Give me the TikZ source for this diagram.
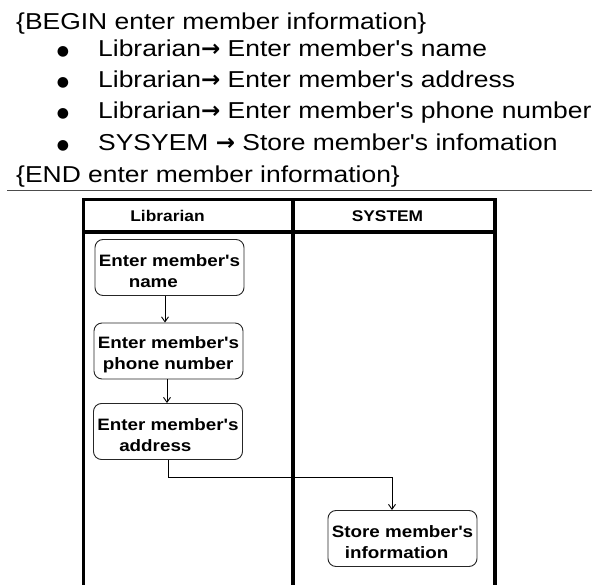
\documentclass[tikz,border=0pt]{standalone}
\usepackage{fontspec}
\setmainfont{Liberation Sans}
\newfontfamily\notefont[FakeStretch=1.15]{Liberation Sans}
\newfontfamily\symfont{DejaVu Sans}
\newfontfamily\boxfont[FakeStretch=1.14]{Liberation Sans Bold}
\newfontfamily\headfont[FakeStretch=1.12]{Liberation Sans Bold}
\usetikzlibrary{arrows.meta}

\newcommand{\thinarrow}{{\symfont\bfseries →}}

\tikzset{
  noteline/.style={anchor=base west, inner sep=0pt, font=\notefont\fontsize{23}{28}\selectfont},
  dot/.style={anchor=center, inner sep=0pt, font=\symfont\fontsize{14}{14}\selectfont},
  lane/.style={line width=3.5pt, black},
  lanehead/.style={anchor=base, inner sep=0pt, font=\headfont\fontsize{15.5}{18}\selectfont},
  activity/.style={draw=black!85, line width=0.9pt, rounded corners=8pt,
    minimum width=149pt, minimum height=56pt, inner sep=0pt, align=left,
    font=\boxfont\fontsize{16.5}{21}\selectfont},
  flow/.style={line width=0.9pt, -{Straight Barb[length=5pt,width=7pt]}}
}

\begin{document}
\begin{tikzpicture}[x=1pt,y=-1pt]
  \useasboundingbox (0,0) rectangle (592,585);

  % pseudo-code block
  \node[noteline] (begin) at (16,30) {\{BEGIN enter member information\}};
  \node[dot] (d1) at (63,52) {●};
  \node[dot] (d2) at (63,83) {●};
  \node[dot] (d3) at (63,114) {●};
  \node[dot] (d4) at (63,146) {●};
  \node[noteline] (l1) at (98,57) {Librarian\thinarrow{} Enter member's name};
  \node[noteline] (l2) at (98,88) {Librarian\thinarrow{} Enter member's address};
  \node[noteline] (l3) at (98,119) {Librarian\thinarrow{} Enter member's phone number};
  \node[noteline] (l4) at (98,151) {SYSYEM \thinarrow{} Store member's infomation};
  \node[noteline] (end) at (16,183) {\{END enter member information\}};

  % separator rule
  \draw[line width=1pt, black!70] (7,191) -- (592,191);

  % swimlanes
  \draw[lane] (83.5,585) -- (83.5,199.5) -- (495,199.5) -- (495,585);
  \draw[lane] (83.5,232) -- (495,232);
  \draw[lane] (293,199.5) -- (293,585);
  \node[lanehead] (hlib) at (167.5,221.5) {Librarian};
  \node[lanehead] (hsys) at (387.5,221.5) {SYSTEM};

  % activities
  \node[activity] (n1) at (169.5,267.5) {\rule{0pt}{20pt}Enter member's\\\hspace*{30pt}name};
  \node[activity] (n2) at (168.5,351) {\rule{0pt}{20pt}Enter member's\\\hspace*{5pt}phone number};
  \node[activity] (n3) at (168,431.5) {\rule{0pt}{20pt}Enter member's\\\hspace*{22pt}address};
  \node[activity] (n4) at (402.5,538.5) {\rule{0pt}{20pt}Store member's\\\hspace*{13pt}information};

  % control flow
  \draw[flow] ([xshift=-4.5pt]n1.south) -- ([xshift=-4.5pt]n1.south |- n2.north);
  \draw[flow] ([xshift=-1.5pt]n2.south) -- ([xshift=-1.5pt]n2.south |- n3.north);
  \draw[flow] (n3.south) -- ++(0,17) -| ([xshift=-10.5pt]n4.north);
\end{tikzpicture}
\end{document}
